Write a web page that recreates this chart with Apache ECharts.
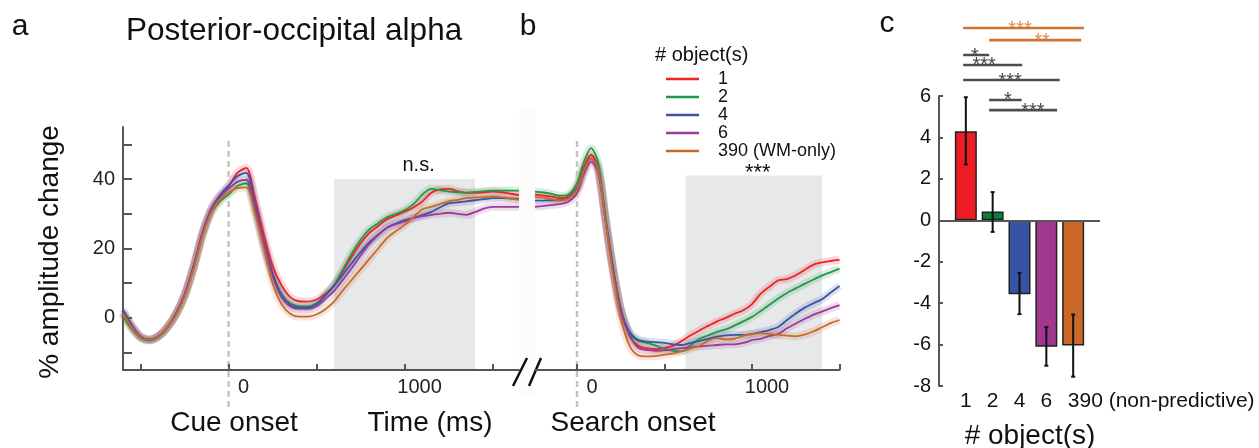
<!DOCTYPE html>
<html>
<head>
<meta charset="utf-8">
<title>Posterior-occipital alpha</title>
<script src="https://cdn.jsdelivr.net/npm/echarts@6.0.0/dist/echarts.min.js"></script>
<style>
  html, body { margin: 0; padding: 0; background: #fff; }
  #chart { width: 1259px; height: 448px; }
</style>
</head>
<body>
<div id="chart"></div>
<script>
// ---- values ----
const seriesNames = ['1', '2', '4', '6', '390 (WM-only)'];

// panel a: time locked to cue onset (ms)
const timeCue = [-600, -550, -500, -450, -400, -350, -300, -250, -200, -150, -100, -50,
  0, 50, 100, 150, 200, 250, 300, 350, 400, 450, 500, 550, 600, 650, 700, 750, 800, 850,
  900, 950, 1000, 1050, 1100, 1150, 1200, 1250, 1300, 1350, 1400, 1450, 1500, 1550, 1600, 1650];
const cue1 = [1.5, -2.5, -5.5, -6.3, -5.3, -2.8, 1, 6.5, 14.5, 24, 31, 35, 37.8, 41.8, 43.2, 34.5, 24, 15, 9.5, 6, 4.8, 4.7, 5.3, 7, 9.5, 13.5, 17.7, 21.5, 24.5, 26.5, 28.4, 29.5, 30.6, 31.8, 33.5, 36, 37, 37.2, 36.5, 36, 36, 36.2, 36.4, 36.2, 35.8, 35.4];
const cue2 = [0.5, -3.2, -5.8, -6.5, -5.5, -3, 0.8, 6.3, 14.2, 23.5, 30.2, 33.5, 35.5, 38, 38.8, 31, 21, 12.5, 7, 4.2, 3.4, 3.3, 4.2, 6.5, 9.5, 14, 18.6, 22.5, 25.5, 27.3, 29, 30, 31, 32.8, 35.5, 37.2, 36.8, 36.4, 36.2, 36.1, 36.3, 36.5, 36.7, 36.7, 36.7, 36.7];
const cue4 = [2.5, -2, -5.3, -6.2, -5.3, -2.8, 1.2, 6.8, 14.8, 24.3, 31.3, 35.3, 38.2, 40.8, 41.8, 33, 22, 13, 6.5, 3.8, 3, 3, 4, 6.5, 9.3, 12.5, 15.8, 19, 21.8, 24, 26, 27.2, 28.2, 28.8, 29.6, 30.5, 31.8, 33, 33.3, 33.6, 33.9, 34.2, 34.5, 34.5, 34.4, 34.3];
const cue6 = [1.5, -2.5, -5.5, -6.3, -5.3, -2.8, 1, 6.5, 14.5, 24, 31, 34.8, 37.2, 39.2, 39.8, 32, 21.5, 12, 6, 3.3, 2.6, 2.6, 3.4, 5.5, 7.8, 11, 14.4, 18, 21.3, 23.8, 26, 27, 27.8, 28.8, 29.3, 29.7, 30, 30.3, 30, 29.7, 30.5, 31.5, 32, 32, 32, 32];
const cue390 = [1.2, -2.8, -5.6, -6.3, -5.3, -2.8, 0.8, 6.2, 14, 23.3, 30.2, 34, 36.2, 37.4, 37.6, 30, 20, 10, 4, 1.2, 0.4, 0.4, 1, 2.5, 4.8, 8, 11, 14, 17, 20, 23, 25, 26.8, 29, 31.3, 32, 32.8, 33.6, 34, 34.5, 34.7, 34.8, 35, 34.8, 34.4, 34];

// panel b: time locked to search onset (ms)
const timeSearch = [-240, -200, -150, -100, -50, 0, 40, 80, 120, 160, 200, 250, 300, 350, 400,
  450, 500, 550, 600, 650, 700, 750, 800, 850, 900, 950, 1000, 1050, 1100, 1150, 1200, 1250,
  1300, 1350, 1400, 1450, 1500];
const search1 = [35.5, 35.3, 35, 34.5, 35, 37.5, 43.5, 47, 43.5, 29.5, 16, 2.5, -5, -8, -8.7, -9, -8.7, -8, -6.6, -5, -3.6, -2.3, -1, 0, 1.2, 2.2, 4, 7, 9, 10.8, 11.2, 12.3, 13.8, 15.3, 16, 16.4, 16.7];
const search2 = [36.4, 36.2, 35.8, 35.2, 35.5, 38.8, 45, 48.9, 45, 30.5, 16.5, 2.5, -4.5, -6.6, -7.2, -8, -8.9, -9.5, -9.6, -7.8, -6, -5, -4, -3.3, -2.2, -1, 0.3, 2, 3.8, 5.6, 7.2, 8.5, 9.8, 11, 12.2, 13.2, 14.2];
const search4 = [33.8, 33.8, 33.9, 33.9, 34.5, 37.3, 42.5, 46, 43, 29.5, 16, 2.5, -4, -6.3, -6.8, -7, -7.2, -7.6, -7.8, -7.2, -6.6, -6, -5.4, -5, -4.9, -4.9, -4.6, -4.1, -3.5, -2.6, -0.6, 1.3, 2.9, 4.2, 5.4, 7.3, 9.2];
const search6 = [32, 32.2, 32.5, 32.8, 33.5, 36, 41.5, 45, 42, 29, 15.5, 2, -5, -8.6, -9.2, -9.5, -9.3, -9, -8.7, -8.4, -8.2, -8, -7.8, -7.6, -7.6, -7.2, -6.4, -6, -5.2, -4.6, -3, -1.6, -0.3, 0.9, 1.8, 2.8, 3.7];
const search390 = [34.9, 34.7, 34.3, 33.8, 34.3, 37, 42.5, 46, 43, 29, 14.5, 0, -8, -10.8, -11.1, -11, -10.6, -10.2, -9.6, -8.8, -8, -6.5, -5.8, -6.2, -6, -5.2, -4.7, -4.4, -4.6, -4.9, -5.1, -5.3, -4.8, -3.9, -2.7, -1.5, -0.6];

// test windows (ms) and their top edge (%)
const cueWindow = [600, 1400, 40];
const searchWindow = [620, 1400, 41];

// panel c
const barLabels = ['1', '2', '4', '6', '390 (non-predictive)'];
const barPos = [1, 2, 3, 4, 5];
const barMeans = [4.3, 0.43, -3.57, -6.1, -6.05];
const errLow = [2.7, -0.56, -4.53, -7.02, -7.55];
const errHigh = [5.94, 1.36, -2.54, -5.16, -4.55];

// significance brackets (bar indices compared, extent, height, stars)
const sigPairs = [[0, 4], [1, 4], [0, 1], [0, 2], [0, 3], [1, 2], [1, 3]];
const sigFrom = [0.9, 1.87, 0.9, 0.9, 0.9, 1.87, 1.87];
const sigTo = [5.4, 5.3, 1.87, 3.1, 4.5, 3.08, 4.4];
const sigLevel = [9.28, 8.7, 7.98, 7.5, 6.77, 5.81, 5.32];
const sigStarX = [3.02, 3.84, 1.34, 1.68, 2.65, 2.57, 3.5];
const sigStars = ['***', '**', '*', '***', '***', '*', '***'];

// ---- chart ----
const font = "'Liberation Sans', Arial, Helvetica, sans-serif";
const lineColors = ['#EC2226', '#1E9A48', '#3A54A4', '#9A3C97', '#C96A2B'];
const barColors = ['#EE1D25', '#0C7D3D', '#3753A3', '#A1378F', '#CA6828'];
const axisColor = '#555';
const orange = '#D2702F';

const zip = (t, v) => t.map((x, i) => [x, v[i]]);

const chart = echarts.init(document.getElementById('chart'));

const series = [];

// grey windows
[cueWindow, searchWindow].forEach((w, p) => {
  series.push({
    type: 'line', xAxisIndex: p, yAxisIndex: p, data: [], z: 0, silent: true,
    markArea: {
      silent: true,
      itemStyle: { color: '#e7e8ea' },
      label: {
        show: true, position: 'top', distance: 4,
        fontFamily: font, fontSize: p ? 22 : 20, color: '#111',
        offset: p ? [4, 12] : [14, 0]
      },
      data: [[{ name: p ? '***' : 'n.s.', xAxis: w[0], yAxis: -15 }, { xAxis: w[1], yAxis: w[2] }]]
    }
  });
});

// time courses: wide pale line as error band, thin line on top
[[cue1, cue2, cue4, cue6, cue390], [search1, search2, search4, search6, search390]].forEach((panel, p) => {
  const t = p ? timeSearch : timeCue;
  panel.forEach((vals, s) => {
    series.push({
      name: seriesNames[s] + ' sem', type: 'line', xAxisIndex: p, yAxisIndex: p,
      data: zip(t, vals), smooth: 0.3, symbol: 'none', silent: true, z: 1,
      lineStyle: { color: lineColors[s], width: 8, opacity: 0.17 }
    });
    series.push({
      name: seriesNames[s], type: 'line', xAxisIndex: p, yAxisIndex: p,
      data: zip(t, vals), smooth: 0.3, symbol: 'none', z: 2,
      lineStyle: { color: lineColors[s], width: 1.8 },
      itemStyle: { color: lineColors[s] }
    });
  });
});

// onset markers (dashed verticals running below the axis)
[2, 3].forEach(g => {
  series.push({
    type: 'line', xAxisIndex: g, yAxisIndex: g, data: [[0, 0], [0, 1]], symbol: 'none',
    silent: true, z: 1,
    lineStyle: { color: '#c4c4c4', width: 2.5, type: [6, 4] }
  });
});

// bars
series.push({
  type: 'bar', xAxisIndex: 4, yAxisIndex: 4, barWidth: 22,
  data: barMeans.map((v, i) => ({ value: [barPos[i], v], itemStyle: { color: barColors[i] } })),
  itemStyle: { borderColor: '#222', borderWidth: 1.5 },
  markLine: {
    silent: true, symbol: 'none', label: { show: false },
    lineStyle: { color: axisColor, width: 2, type: 'solid' },
    data: [{ yAxis: 0 }]
  }
});

// error bars
series.push({
  type: 'custom', xAxisIndex: 4, yAxisIndex: 4, z: 5,
  data: barPos.map((x, i) => [x, errLow[i], errHigh[i]]),
  encode: { x: 0, y: [1, 2] },
  renderItem: function (params, api) {
    const lo = api.coord([api.value(0), api.value(1)]);
    const hi = api.coord([api.value(0), api.value(2)]);
    const st = { stroke: '#111', lineWidth: 2 };
    return {
      type: 'group', children: [
        { type: 'line', shape: { x1: lo[0], y1: lo[1], x2: hi[0], y2: hi[1] }, style: st },
        { type: 'line', shape: { x1: lo[0] - 2, y1: lo[1], x2: lo[0] + 2, y2: lo[1] }, style: st },
        { type: 'line', shape: { x1: hi[0] - 2, y1: hi[1], x2: hi[0] + 2, y2: hi[1] }, style: st }
      ]
    };
  }
});

// significance brackets
sigPairs.forEach((pair, i) => {
  const col = pair[1] === 4 ? orange : '#4d4d4d';
  series.push({
    type: 'line', xAxisIndex: 5, yAxisIndex: 5, silent: true, symbol: 'none',
    data: [[sigFrom[i], sigLevel[i]], [sigTo[i], sigLevel[i]]],
    lineStyle: { color: col, width: 2.6 }
  });
  series.push({
    type: 'scatter', xAxisIndex: 5, yAxisIndex: 5, silent: true, symbolSize: 1,
    itemStyle: { color: 'rgba(0,0,0,0)' },
    data: [[sigStarX[i], sigLevel[i]]],
    label: {
      show: true, position: 'inside', formatter: sigStars[i], offset: [0, 1],
      fontFamily: font, fontSize: 20, color: pair[1] === 4 ? orange : '#111'
    }
  });
});

const timeAxis = (g, min, max, ticks, pad) => ({
  type: 'value', gridIndex: g, min: min, max: max, z: 3,
  axisLine: { onZero: false, lineStyle: { color: axisColor, width: 2 } },
  axisTick: { inside: true, length: 6, customValues: ticks, lineStyle: { color: axisColor, width: 2 } },
  axisLabel: {
    customValues: [0, 1000], formatter: v => String(v),
    fontFamily: font, fontSize: 20, color: '#222', margin: 7, padding: [0, 0, 0, pad]
  },
  splitLine: { show: false }
});
const hidden = (g, min, max) => ({ type: 'value', gridIndex: g, min: min, max: max, show: false });

const option = {
  animation: false,
  backgroundColor: '#fff',
  textStyle: { fontFamily: font },
  grid: [
    { left: 123, top: 127, width: 396, height: 243 },
    { left: 535, top: 127, width: 304.5, height: 243 },
    { left: 123, top: 137, width: 396, height: 270 },
    { left: 535, top: 137, width: 304.5, height: 270 },
    { left: 939, top: 96, width: 161, height: 290 },
    { left: 939, top: 0, width: 161, height: 220.3 }
  ],
  xAxis: [
    timeAxis(0, -600, 1650, [-500, 0, 500, 1000, 1500], 30),
    timeAxis(1, -240, 1500, [0, 500, 1000, 1500], 30),
    hidden(2, -600, 1650),
    hidden(3, -240, 1500),
    {
      type: 'value', gridIndex: 4, min: 0, max: 6,
      axisLine: { show: false }, axisTick: { show: false }, splitLine: { show: false },
      axisLabel: {
        customValues: barPos, margin: 5, fontFamily: font, fontSize: 21, color: '#111',
        formatter: v => v === 5 ? '{w|' + barLabels[4] + '}' : barLabels[v - 1],
        rich: { w: { fontFamily: font, fontSize: 21, color: '#111', padding: [0, 0, 0, 176] } }
      }
    },
    hidden(5, 0, 6)
  ],
  yAxis: [
    {
      type: 'value', gridIndex: 0, min: -15, max: 55,
      axisLine: { show: true, onZero: false, lineStyle: { color: axisColor, width: 2 } },
      axisTick: { show: true, inside: true, length: 9, customValues: [-10, 0, 10, 20, 30, 40, 50], lineStyle: { color: axisColor, width: 2 } },
      axisLabel: { customValues: [0, 20, 40], fontFamily: font, fontSize: 20, color: '#222', margin: 8 },
      splitLine: { show: false }
    },
    hidden(1, -15, 55),
    hidden(2, 0, 1),
    hidden(3, 0, 1),
    {
      type: 'value', gridIndex: 4, min: -8, max: 6, interval: 2,
      axisLine: { show: true, onZero: false, lineStyle: { color: axisColor, width: 2 } },
      axisTick: { show: true, inside: true, length: 4, lineStyle: { color: axisColor, width: 2 } },
      axisLabel: { fontFamily: font, fontSize: 20, color: '#111', margin: 8 },
      splitLine: { show: false }
    },
    hidden(5, 0, 10.635)
  ],
  legend: {
    data: seriesNames, orient: 'vertical', left: 661, top: 65,
    icon: 'rect', itemWidth: 33, itemHeight: 2.5, itemGap: 0,
    textStyle: { fontFamily: font, fontSize: 18, lineHeight: 17.3, color: '#111', padding: [0, 0, 0, 14] }
  },
  graphic: [
    { type: 'rect', z: -1, shape: { x: 519, y: 108, width: 16, height: 288 }, style: { fill: '#fcfcfc' } },
    { type: 'line', shape: { x1: 513, y1: 386, x2: 527, y2: 358 }, style: { stroke: '#111', lineWidth: 2.5 } },
    { type: 'line', shape: { x1: 529, y1: 386, x2: 541, y2: 358 }, style: { stroke: '#111', lineWidth: 2.5 } },
    { type: 'text', x: 20, y: 27, style: { text: 'a', font: '30px ' + font, fill: '#111', textAlign: 'center', textVerticalAlign: 'middle' } },
    { type: 'text', x: 528, y: 27, style: { text: 'b', font: '30px ' + font, fill: '#111', textAlign: 'center', textVerticalAlign: 'middle' } },
    { type: 'text', x: 887, y: 24, style: { text: 'c', font: '30px ' + font, fill: '#111', textAlign: 'center', textVerticalAlign: 'middle' } },
    { type: 'text', x: 126, y: 31, style: { text: 'Posterior-occipital alpha', font: '31.5px ' + font, fill: '#111', textAlign: 'left', textVerticalAlign: 'middle' } },
    { type: 'text', x: 655, y: 55, style: { text: '# object(s)', font: '20px ' + font, fill: '#111', textAlign: 'left', textVerticalAlign: 'middle' } },
    { type: 'text', x: 50, y: 252, rotation: Math.PI / 2, style: { text: '% amplitude change', font: '28px ' + font, fill: '#111', textAlign: 'center', textVerticalAlign: 'middle' } },
    { type: 'text', x: 234, y: 423, style: { text: 'Cue onset', font: '28px ' + font, fill: '#111', textAlign: 'center', textVerticalAlign: 'middle' } },
    { type: 'text', x: 430, y: 423, style: { text: 'Time (ms)', font: '28px ' + font, fill: '#111', textAlign: 'center', textVerticalAlign: 'middle' } },
    { type: 'text', x: 633, y: 423, style: { text: 'Search onset', font: '28px ' + font, fill: '#111', textAlign: 'center', textVerticalAlign: 'middle' } },
    { type: 'text', x: 1030, y: 436, style: { text: '# object(s)', font: '28px ' + font, fill: '#111', textAlign: 'center', textVerticalAlign: 'middle' } }
  ],
  series: series
};

chart.setOption(option);
window.addEventListener('resize', () => chart.resize());
</script>
</body>
</html>
